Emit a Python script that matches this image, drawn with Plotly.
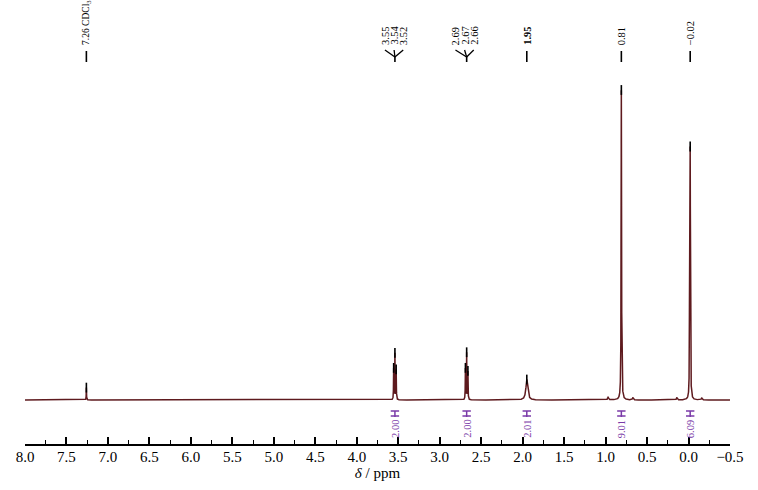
import numpy as np
import plotly.graph_objects as go

# -----------------------------------------------------
# Spectrum data (peaks)
# -----------------------------------------------------
peak_ppm = [7.26, 3.555, 3.540, 3.525, 2.690, 2.675, 2.660, 1.95, 0.81, -0.02, -0.012,
            0.97, 0.67, 0.14, -0.16]
peak_height = [0.040, 0.100, 0.148, 0.095, 0.100, 0.150, 0.090, 0.066, 1.0, 0.80, 0.30,
               0.010, 0.008, 0.008, 0.007]
peak_hwhm = [0.002, 0.0022, 0.0022, 0.0022, 0.0022, 0.0022, 0.0022, 0.013, 0.003, 0.003, 0.002,
             0.006, 0.006, 0.006, 0.006]

# peak-pick labels at top
pick_single = [(7.26, "7.26 CDCl<sub>3</sub>", 9.5), (1.95, "<b>1.95</b>", 10.5),
               (0.81, "0.81", 10.5), (-0.02, "−0.02", 10.5)]
pick_groups = [
    {"center": 3.54, "labels": ["3.55", "3.54", "3.52"], "label_ppm": [3.66, 3.55, 3.44]},
    {"center": 2.675, "labels": ["2.69", "2.67", "2.66"], "label_ppm": [2.81, 2.70, 2.59]},
]

# integrals
integ_ppm = [3.54, 2.675, 1.95, 0.81, -0.02]
integ_text = ["2.00", "2.00", "2.01", "9.01", "6.09"]

tick_vals = [8.0, 7.5, 7.0, 6.5, 6.0, 5.5, 5.0, 4.5, 4.0, 3.5, 3.0, 2.5, 2.0, 1.5, 1.0, 0.5, 0.0, -0.5]
tick_text = ["8.0", "7.5", "7.0", "6.5", "6.0", "5.5", "5.0", "4.5", "4.0", "3.5", "3.0",
             "2.5", "2.0", "1.5", "1.0", "0.5", "0.0", "−0.5"]

# peak-top marks
marks = [7.26, 3.555, 3.540, 3.525, 2.690, 2.675, 2.660, 1.95, 0.81, -0.02]

SPEC = "#5e1a1e"
PURPLE = "#7a3aa8"
FONT = "Liberation Serif"


def spectrum(x):
    y = np.zeros_like(x)
    for p, h, w in zip(peak_ppm, peak_height, peak_hwhm):
        y += h * w**2 / ((x - p) ** 2 + w**2)
    return y


def px2y(pix):
    # baseline at pixel 400, tallest peak at pixel 90
    return (400 - pix) / 310.0


x = np.linspace(8.0, -0.5, 40000)
y = spectrum(x)

fig = go.Figure()
fig.add_trace(go.Scatter(x=x, y=y, mode="lines", line=dict(color=SPEC, width=1.5),
                         hoverinfo="skip", showlegend=False))

mark_y = spectrum(np.array(marks))
fig.add_trace(go.Scatter(x=marks, y=mark_y, mode="markers",
                         marker=dict(symbol="line-ns-open", size=7, color="black",
                                     line=dict(color="black", width=1.6)),
                         showlegend=False, hoverinfo="skip"))

shapes = []
annotations = []

# single peak labels
for ppm, txt, fs in pick_single:
    shapes.append(dict(type="line", xref="x", yref="y", x0=ppm, x1=ppm,
                       y0=px2y(51), y1=px2y(62), line=dict(color="black", width=1.6)))
    annotations.append(dict(x=ppm, y=px2y(47), xref="x", yref="y", text=txt, textangle=-90,
                            showarrow=False, xanchor="center", yanchor="bottom",
                            font=dict(family=FONT, size=fs, color="black")))

# multiplet labels with fork
for g in pick_groups:
    for lp, lab in zip(g["label_ppm"], g["labels"]):
        annotations.append(dict(x=lp, y=px2y(47), xref="x", yref="y", text=lab, textangle=-90,
                                showarrow=False, xanchor="center", yanchor="bottom",
                                font=dict(family=FONT, size=10.5, color="black")))
        shapes.append(dict(type="line", xref="x", yref="y", x0=lp, x1=g["center"],
                           y0=px2y(50), y1=px2y(57), line=dict(color="black", width=1.3)))
    shapes.append(dict(type="line", xref="x", yref="y", x0=g["center"], x1=g["center"],
                       y0=px2y(56), y1=px2y(62), line=dict(color="black", width=1.6)))

# integrals
for ppm, txt in zip(integ_ppm, integ_text):
    shapes.append(dict(type="line", xref="x", yref="y", x0=ppm, x1=ppm,
                       y0=px2y(411), y1=px2y(417), line=dict(color=PURPLE, width=1.5)))
    annotations.append(dict(x=ppm, y=px2y(418), xref="x", yref="y", text=txt, textangle=-90,
                            showarrow=False, xanchor="center", yanchor="top",
                            font=dict(family=FONT, size=10.5, color=PURPLE)))
fig.add_trace(go.Scatter(x=integ_ppm * 2, y=[px2y(411)] * 5 + [px2y(416)] * 5, mode="markers",
                         marker=dict(symbol="line-ew-open", size=6, color=PURPLE,
                                     line=dict(color=PURPLE, width=1.5)),
                         showlegend=False, hoverinfo="skip"))

fig.update_layout(
    width=758, height=490,
    margin=dict(l=25, r=28, t=0, b=46),
    plot_bgcolor="white", paper_bgcolor="white",
    shapes=shapes, annotations=annotations,
    xaxis=dict(range=[8.0, -0.5], showgrid=False, zeroline=False, automargin=False,
               showline=True, linecolor="black", linewidth=1.6,
               ticks="inside", ticklen=7, tickwidth=1.5, tickcolor="black",
               tickvals=tick_vals, ticktext=tick_text, ticklabelstandoff=-2,
               minor=dict(ticks="inside", ticklen=4, tickwidth=1.3, tickcolor="black", dtick=0.25),
               tickfont=dict(family=FONT, size=15, color="black"),
               title=dict(text="<i>δ</i> / ppm", font=dict(family=FONT, size=15, color="black"), standoff=0)),
    yaxis=dict(range=[px2y(444), px2y(0)], visible=False, showgrid=False, zeroline=False,
               automargin=False),
)

# page body has a default 8px margin; drop it so the figure sits at the window corner
fig.write_html("out.html", config={"displayModeBar": False},
               post_script="document.body.style.margin='0px';")
